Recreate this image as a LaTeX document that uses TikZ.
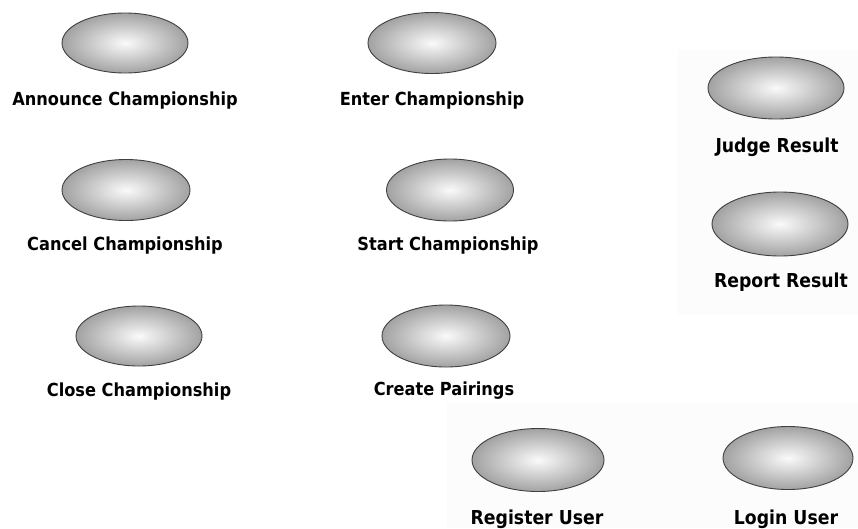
\documentclass[tikz,border=0pt]{standalone}
\usepackage{fontspec}
\setmainfont{DejaVu Sans}[FakeStretch=0.9]
\usetikzlibrary{shapes.geometric}
\definecolor{ucinner}{HTML}{FAFAFA}
\definecolor{ucouter}{HTML}{A2A2A2}
\definecolor{ucline}{HTML}{404040}
\definecolor{panelbg}{HTML}{FCFCFC}
\tikzset{
  usecase/.style={ellipse, draw=ucline, line width=0.9pt, inner sep=0pt,
    shading=radial, inner color=ucinner, outer color=ucouter},
  lblleft/.style={anchor=base, inner sep=0pt, text=black,
    font=\fontsize{18}{20}\selectfont\bfseries},
  lblright/.style={anchor=base, inner sep=0pt, text=black,
    font=\fontsize{19.2}{22}\selectfont\bfseries}
}
\begin{document}
\begin{tikzpicture}[x=1pt,y=-1pt]
\useasboundingbox (0,0) rectangle (858,528);
\fill[white] (0,0) rectangle (858,528);
\fill[panelbg] (678,50) rectangle (858,315);
\fill[panelbg] (447,403) rectangle (858,528);

\node[usecase, minimum width=126pt, minimum height=60pt] (announce) at (125,43) {};
\node[lblleft] (announceL) at (125,105) {Announce Championship};

\node[usecase, minimum width=128pt, minimum height=61pt] (enter) at (432,43) {};
\node[lblleft] (enterL) at (432,105) {Enter Championship};

\node[usecase, minimum width=128pt, minimum height=61pt] (cancel) at (126,190) {};
\node[lblleft] (cancelL) at (125,250) {Cancel Championship};

\node[usecase, minimum width=127pt, minimum height=62pt] (start) at (450,190) {};
\node[lblleft] (startL) at (448,250) {Start Championship};

\node[usecase, minimum width=126pt, minimum height=60pt] (close) at (139,336) {};
\node[lblleft] (closeL) at (139,396) {Close Championship};

\node[usecase, minimum width=128pt, minimum height=62pt] (create) at (446,336) {};
\node[lblleft] (createL) at (444,395) {Create Pairings};

\node[usecase, minimum width=136pt, minimum height=62pt] (judge) at (776,88) {};
\node[lblright] (judgeL) at (777,152) {Judge Result};

\node[usecase, minimum width=136pt, minimum height=64pt] (report) at (780,224) {};
\node[lblright] (reportL) at (781,287) {Report Result};

\node[usecase, minimum width=132pt, minimum height=63pt] (register) at (538,460) {};
\node[lblright] (registerL) at (537,524) {Register User};

\node[usecase, minimum width=130pt, minimum height=63pt] (login) at (788,458) {};
\node[lblright] (loginL) at (786,524) {Login User};
\end{tikzpicture}
\end{document}
